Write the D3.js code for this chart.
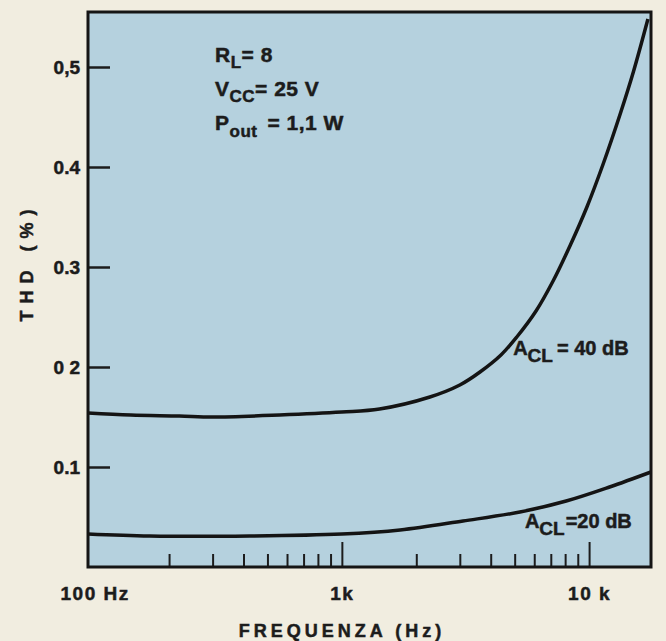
<!DOCTYPE html>
<html>
<head>
<meta charset="utf-8">
<script src="https://cdn.jsdelivr.net/npm/d3@7/dist/d3.min.js"></script>
<style>
  html, body { margin: 0; padding: 0; background: #f1ede0; }
  svg { display: block; }
  text { font-family: "Liberation Sans", Arial, sans-serif; font-weight: bold; fill: #1c1c1c; stroke: #1c1c1c; stroke-width: 0.5px; }
</style>
</head>
<body>
<svg id="chart" width="666" height="641"></svg>
<script>
// THD (%) vs frequency (Hz)
const freq40 = [94, 140, 220, 300, 560, 1000, 1420, 2270, 3000, 3620, 4400, 5100, 6100, 7150, 8400, 9800, 11400, 13400, 15100, 17300];
const thd40  = [0.154, 0.152, 0.151, 0.150, 0.152, 0.155, 0.158, 0.170, 0.182, 0.195, 0.212, 0.230, 0.256, 0.286, 0.322, 0.360, 0.403, 0.454, 0.495, 0.548];

const freq20 = [94, 167, 424, 1000, 1720, 3090, 5250, 8080, 12100, 17800];
const thd20  = [0.033, 0.031, 0.031, 0.033, 0.037, 0.046, 0.055, 0.066, 0.080, 0.095];

// axis ticks and labels
const freqDomain = [94, 17800];
const thdDomain = [0, 0.555];
const minorFreqTicks = [200, 300, 400, 500, 600, 700, 800, 900, 2000, 3000, 4000, 5000, 6000, 7000, 8000, 9000];
const majorFreqTicks = [1000, 10000];
const freqLabelValues = [100, 1000, 10000];
const freqLabelTexts = ['100 Hz', '1k', '10 k'];
const thdTickValues = [0.1, 0.2, 0.3, 0.4, 0.5];
const thdTickTexts = ['0.1', '0 2', '0.3', '0.4', '0,5'];

// curve labels, anchored in data coordinates
const curveLabelFreqs = [4930, 5500];
const curveLabelThd = [0.212, 0.039];
const curveLabelRest = ['= 40 dB', '=20 dB'];
const curveLabelGap = [4, 1];

const svg = d3.select('#chart');
const margin = { top: 12, right: 15, bottom: 74, left: 88 };
const width = 666, height = 641;
const FONT = '"Liberation Sans", Arial, sans-serif';

const x = d3.scaleLog()
    .domain(freqDomain)
    .range([margin.left, width - margin.right]);

const y = d3.scaleLinear()
    .domain(thdDomain)
    .range([height - margin.bottom, margin.top]);

// plot area background
svg.append('rect')
    .attr('x', x.range()[0])
    .attr('y', y.range()[1])
    .attr('width', x.range()[1] - x.range()[0])
    .attr('height', y.range()[0] - y.range()[1])
    .attr('fill', '#b5d1de');

// curves
const line = d3.line()
    .x(d => x(d[0]))
    .y(d => y(d[1]))
    .curve(d3.curveCatmullRom.alpha(0.5));

[[freq40, thd40], [freq20, thd20]].forEach(([fs, vs]) => {
    svg.append('path')
        .datum(fs.map((f, i) => [f, vs[i]]))
        .attr('d', line)
        .attr('fill', 'none')
        .attr('stroke', '#141414')
        .attr('stroke-width', 3.5);
});

// y axis: ticks pointing into the plot
const yAxis = svg.append('g')
    .attr('transform', `translate(${margin.left},0)`)
    .call(d3.axisLeft(y)
        .tickValues(thdTickValues)
        .tickSize(-22)
        .tickPadding(8)
        .tickFormat((d, i) => thdTickTexts[i]));
yAxis.select('.domain').remove();
yAxis.selectAll('line').attr('stroke', '#1c1c1c').attr('stroke-width', 2.5);
yAxis.selectAll('text')
    .attr('font-size', 19)
    .attr('fill', '#1c1c1c')
    .style('font-family', FONT);

// x axis: short minor ticks, longer decade ticks
const xBase = height - margin.bottom;
[[minorFreqTicks, 13], [majorFreqTicks, 25]].forEach(([vals, len]) => {
    const g = svg.append('g')
        .attr('transform', `translate(0,${xBase})`)
        .call(d3.axisBottom(x).tickValues(vals).tickSize(-len).tickFormat(''));
    g.select('.domain').remove();
    g.selectAll('line').attr('stroke', '#1c1c1c').attr('stroke-width', 2);
});

const xLabels = svg.append('g')
    .attr('transform', `translate(0,${xBase})`)
    .call(d3.axisBottom(x).tickValues(freqLabelValues).tickSize(0).tickPadding(20)
        .tickFormat((d, i) => freqLabelTexts[i]));
xLabels.select('.domain').remove();
xLabels.selectAll('text')
    .attr('font-size', 19)
    .attr('fill', '#1c1c1c')
    .attr('letter-spacing', 1.5)
    .style('font-family', FONT);

// frame
svg.append('rect')
    .attr('x', x.range()[0])
    .attr('y', y.range()[1])
    .attr('width', x.range()[1] - x.range()[0])
    .attr('height', y.range()[0] - y.range()[1])
    .attr('fill', 'none')
    .attr('stroke', '#151515')
    .attr('stroke-width', 3);

// axis titles
svg.append('text')
    .attr('x', 342)
    .attr('y', 637)
    .attr('text-anchor', 'middle')
    .attr('font-size', 18)
    .attr('letter-spacing', 4)
    .text('FREQUENZA (Hz)');

svg.append('text')
    .attr('transform', 'translate(33,262) rotate(-90)')
    .attr('text-anchor', 'middle')
    .attr('font-size', 18)
    .attr('letter-spacing', 7)
    .text('THD (%)');

// helper for text with a subscript
function subText(g, xPos, yPos, main, sub, rest, size, subSize, shift, gap) {
    const t = g.append('text')
        .attr('x', xPos)
        .attr('y', yPos)
        .attr('font-size', size);
    t.append('tspan').text(main);
    t.append('tspan').attr('font-size', subSize).attr('dy', shift).text(sub);
    t.append('tspan').attr('dy', -shift).attr('dx', gap || 0).text(rest);
    return t;
}

// test conditions
const info = svg.append('g').attr('letter-spacing', 0.5);
subText(info, 215, 62, 'R', 'L', '= 8', 21, 17, 6);
subText(info, 215, 96, 'V', 'CC', '= 25 V', 21, 17, 6);
subText(info, 215, 130, 'P', 'out', '= 1,1 W', 21, 17, 7, 10);

// curve labels
curveLabelFreqs.forEach((f, i) => {
    subText(svg, x(f), y(curveLabelThd[i]), 'A', 'CL', curveLabelRest[i], 20, 19, 7, curveLabelGap[i]);
});
</script>
</body>
</html>
